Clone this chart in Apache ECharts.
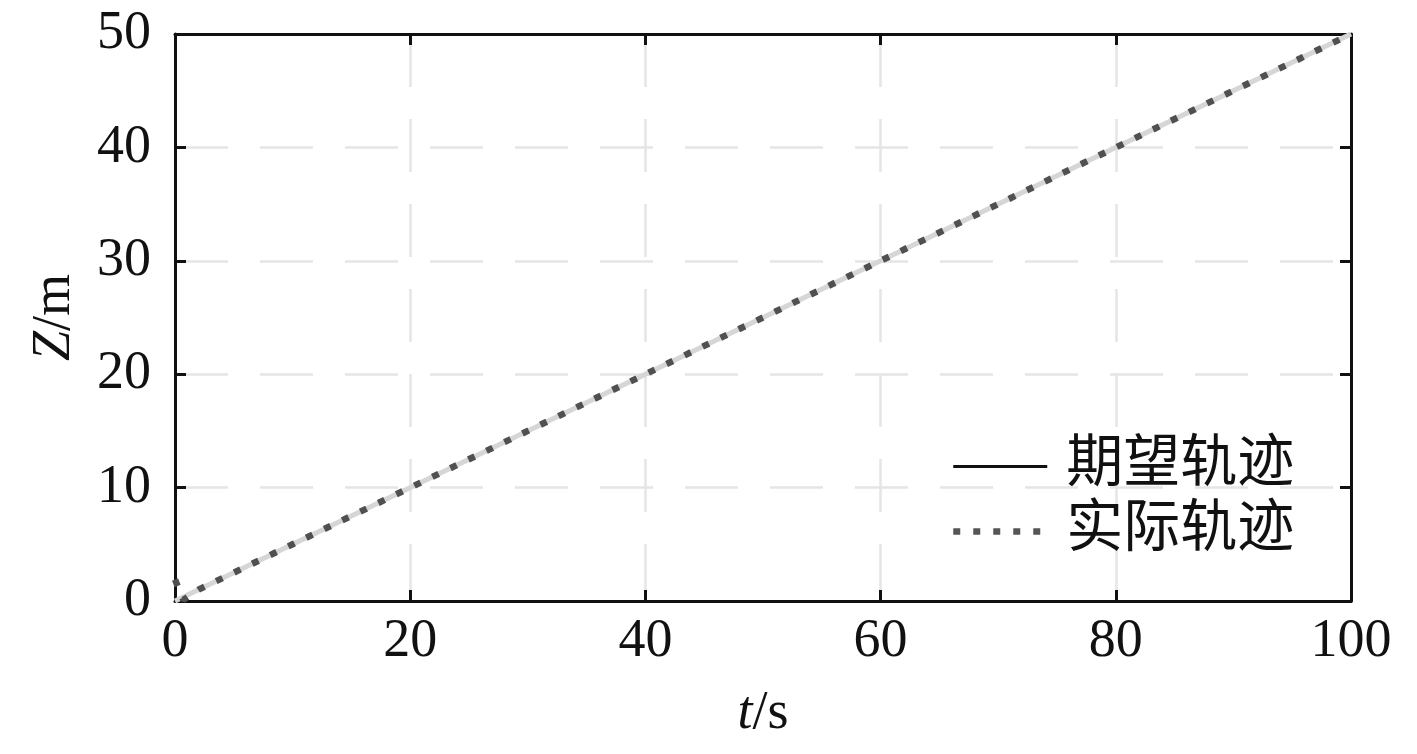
<!DOCTYPE html>
<html>
<head>
<meta charset="utf-8">
<script src="https://cdn.jsdelivr.net/npm/echarts@6/dist/echarts.min.js"></script>
<style>
  html, body { margin: 0; padding: 0; background: #fff; }
  #main { width: 1417px; height: 754px; }
</style>
</head>
<body>
<div id="main"></div>
<script>
// 期望轨迹
var desiredT = [0, 100];
var desiredZ = [0, 50];
// 实际轨迹
var actualT = [0, 0.7, 2, 10, 20, 30, 40, 50, 60, 70, 80, 90, 100];
var actualZ = [1.9, 0.1, 1.0, 5, 10, 15, 20, 25, 30, 35, 40, 45, 50];
var legendNames = ['期望轨迹', '实际轨迹'];

function pairs(xs, ys) {
  var out = [];
  for (var i = 0; i < xs.length; i++) out.push([xs[i], ys[i]]);
  return out;
}

var serif = '"Liberation Serif", "Times New Roman", "Noto Sans CJK SC", serif';
var axisLine = { show: true, onZero: false, lineStyle: { color: '#111', width: 3 } };
var tick = { show: true, inside: true, length: 11, lineStyle: { color: '#111', width: 3 } };
var grid = { show: true, lineStyle: { color: '#e5e5e5', width: 2.5, type: [53, 32] } };
var nameStyle = { fontFamily: serif, fontSize: 54, color: '#111',
  rich: { i: { fontFamily: serif, fontSize: 54, fontStyle: 'italic', color: '#111' } } };

var myChart = echarts.init(document.getElementById('main'));
myChart.setOption({
  animation: false,
  backgroundColor: '#fff',
  grid: { left: 175, right: 66, top: 34, bottom: 153 },
  legend: {
    orient: 'vertical',
    left: 945,
    top: 433,
    itemWidth: 94,
    itemHeight: 20,
    itemGap: 8,
    textStyle: { fontFamily: serif, fontSize: 57, color: '#111', padding: [0, 0, 0, 14] },
    itemStyle: { opacity: 0 },
    data: [
      { name: legendNames[0], lineStyle: { color: '#111', width: 3, type: 'solid' } },
      { name: legendNames[1], lineStyle: { color: '#555', width: 6.5, type: [7, 13] } }
    ]
  },
  xAxis: [{
    type: 'value', min: 0, max: 100, interval: 20,
    position: 'bottom',
    axisLine: axisLine, axisTick: tick, splitLine: grid,
    axisLabel: { fontFamily: serif, fontSize: 54, color: '#111', margin: 14 },
    name: '{i|t}/s', nameLocation: 'middle', nameGap: 86,
    nameTextStyle: nameStyle
  }, {
    type: 'value', min: 0, max: 100, interval: 20,
    position: 'top',
    axisLine: axisLine, axisTick: tick, splitLine: { show: false },
    axisLabel: { show: false }
  }],
  yAxis: [{
    type: 'value', min: 0, max: 50, interval: 10,
    position: 'left',
    axisLine: axisLine, axisTick: tick, splitLine: grid,
    axisLabel: { fontFamily: serif, fontSize: 54, color: '#111', margin: 24 },
    name: '{i|Z}/m', nameLocation: 'middle', nameGap: 93,
    nameTextStyle: nameStyle
  }, {
    type: 'value', min: 0, max: 50, interval: 10,
    position: 'right',
    axisLine: axisLine, axisTick: tick, splitLine: { show: false },
    axisLabel: { show: false }
  }],
  series: [{
    name: legendNames[0],
    type: 'line',
    data: pairs(desiredT, desiredZ),
    showSymbol: false,
    symbol: 'none',
    color: '#111',
    lineStyle: { color: '#d6d6d6', width: 5 },
    z: 2
  }, {
    name: legendNames[1],
    type: 'line',
    data: pairs(actualT, actualZ),
    showSymbol: false,
    symbol: 'none',
    color: '#555',
    lineStyle: { color: '#505050', width: 6.5, type: [7, 13] },
    z: 3
  }]
});
</script>
</body>
</html>
